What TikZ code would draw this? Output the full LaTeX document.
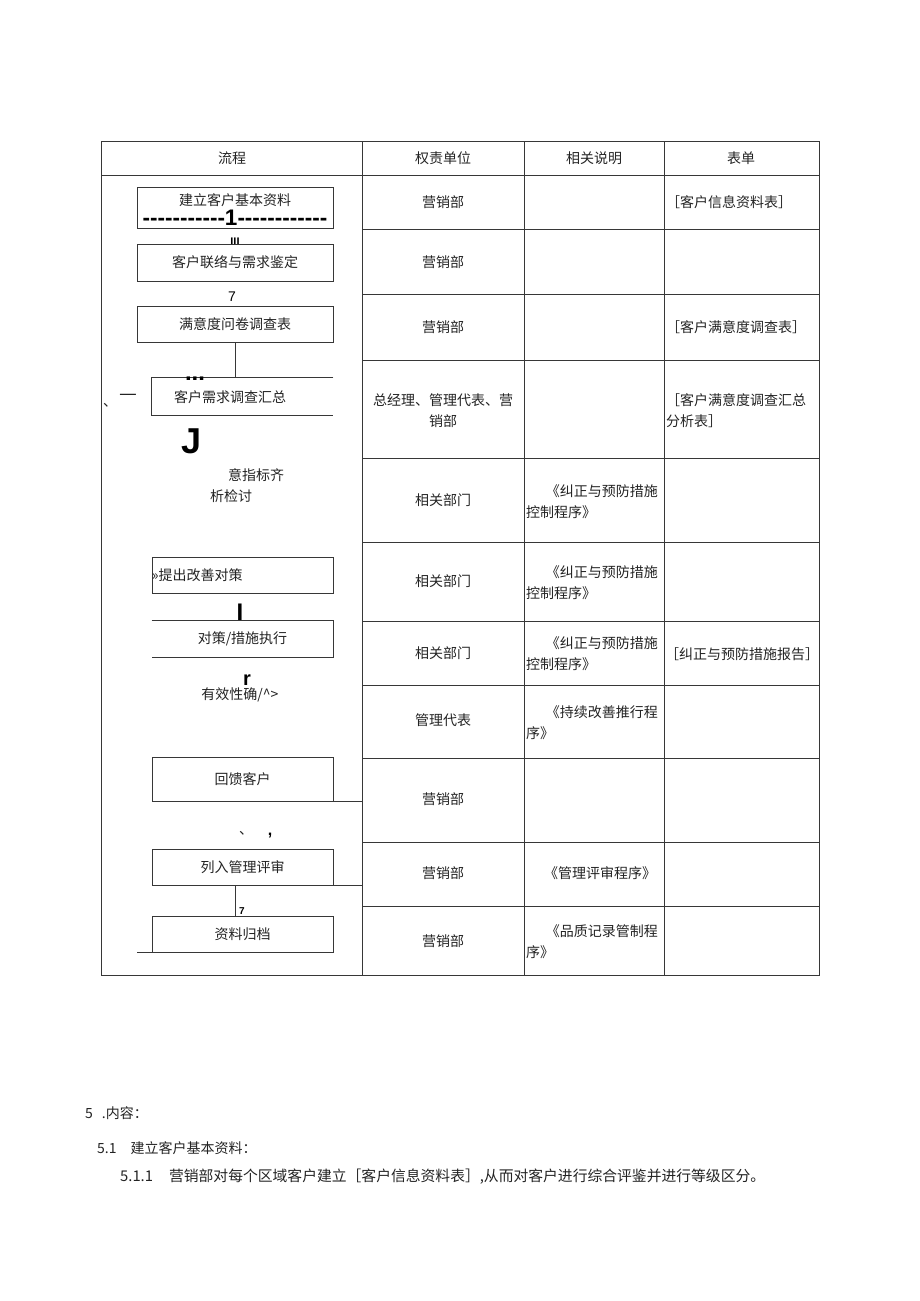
\documentclass[tikz,border=0pt]{standalone}
\usepackage{fontspec}
\setmainfont{Noto Sans CJK SC}
\newfontfamily\latinfont{Liberation Sans}
\usetikzlibrary{calc}
\definecolor{tbline}{RGB}{55,55,55}
\definecolor{tbtext}{RGB}{35,35,35}
\def\hy{-{}}

\begin{document}
\begin{tikzpicture}[
    x=1pt, y=-1pt,
    tag/.style={font=\fontsize{14}{21}\selectfont, text=tbtext, inner sep=0pt},
    glyph/.style={font=\latinfont\fontsize{14}{14}\selectfont, text=black, inner sep=0pt},
    stepbox/.style={draw=tbline, line width=0.8pt, minimum width=181pt, minimum height=36pt,
      inner sep=0pt, font=\fontsize{14}{16}\selectfont, text=tbtext},
    openbox/.style={stepbox, draw=none},
    tbrule/.style={draw=tbline, line width=0.8pt},
  ]

  \useasboundingbox (0,0) rectangle (920,1301);

  % table frame
  \draw[tbrule] (101,141) rectangle (819,975);
  \coordinate (col2) at (362,141);
  \draw[tbrule] (col2) -- (362,975) (524,141) -- (524,975) (664,141) -- (664,975);
  \draw[tbrule] (101,175) -- (819,175);
  \foreach \yy in {229,294,360,458,542,621,685,758,842,906}
    \draw[tbrule] (362,\yy) -- (819,\yy);

  % header
  \node[tag] (h1) at (232,158) {流程};
  \node[tag] (h2) at (443,158) {权责单位};
  \node[tag] (h3) at (594,158) {相关说明};
  \node[tag] (h4) at (741,158) {表单};

  % flow column
  \node[stepbox, minimum width=196pt, minimum height=41pt] (b1) at (235,207.5) {};
  \node[tag] (b1t) at (235,200) {建立客户基本资料};
  \node[glyph, font=\latinfont\bfseries\fontsize{22.5}{22.5}\selectfont] (b1d) at (235,218)
    {\hy\hy\hy\hy\hy\hy\hy\hy\hy\hy\hy 1\hy\hy\hy\hy\hy\hy\hy\hy\hy\hy\hy\hy};
  \node[glyph, font=\latinfont\bfseries\fontsize{11}{11}\selectfont, anchor=base] (m1) at (235,245) {III};

  \node[stepbox, minimum width=196pt, minimum height=37pt] (b2) at (235,262.5) {客户联络与需求鉴定};
  \node[glyph] (m2) at (232,297) {7};

  \node[stepbox, minimum width=196pt] (b3) at (235,324) {满意度问卷调查表};

  \node[openbox, minimum height=37pt] (b4) at (242.5,396.5) {};
  \draw[tbrule] (b4.north east) -- (b4.north west) -- (b4.south west) -- (b4.south east);
  \node[tag] (b4t) at (230,397) {客户需求调查汇总};
  \draw[tbrule] (b3.south) -- (b3.south |- b4.north);
  \node[glyph, font=\latinfont\bfseries\fontsize{24}{24}\selectfont, anchor=base] (m3) at (195,380) {...};
  \node[tag, font=\fontsize{20}{20}\selectfont] (m4) at (128,397) {—};
  \node[tag] (m5) at (110,405) {、};
  \node[glyph, font=\latinfont\bfseries\fontsize{36}{36}\selectfont, anchor=base] (m6) at (192,453) {J};

  \node[tag] (m7) at (256,475) {意指标齐};
  \node[tag] (m8) at (231,496) {析检讨};

  \node[stepbox] (b5) at (242.5,575) {};
  \node[tag, anchor=west] (b5t) at (b5.west) {»提出改善对策};
  \node[glyph, font=\latinfont\bfseries\fontsize{24}{24}\selectfont, anchor=base] (m9) at (240,620) {I};

  \node[openbox] (b6) at (242.5,639) {对策/措施执行};
  \draw[tbrule] (b6.north west) -- (b6.north east) -- (b6.south east) -- (b6.south west);
  \node[glyph, font=\latinfont\bfseries\fontsize{20}{20}\selectfont, anchor=base] (m10) at (247,685) {r};
  \node[tag] (m11) at (240,695) {有效性确/\^{}>};

  \node[stepbox, minimum height=44pt] (b7) at (242.5,779) {回馈客户};
  \draw[tbrule] (b7.south east) -- (b7.south east -| col2);
  \node[tag] (m12) at (246,833) {、};
  \node[glyph, font=\latinfont\bfseries\fontsize{16}{16}\selectfont] (m13) at (270,836) {,};

  \node[stepbox] (b8) at (242.5,867) {列入管理评审};
  \draw[tbrule] (b8.south east) -- (b8.south east -| col2);
  \node[stepbox] (b9) at (242.5,934) {资料归档};
  \draw[tbrule] ($(b8.south)+(-7.5,0)$) -- ($(b9.north)+(-7.5,0)$);
  \node[glyph, font=\latinfont\bfseries\fontsize{10}{10}\selectfont] (m14) at (242,911) {7};
  \draw[tbrule] (b9.south west) -- (b9.south west -| b1.west);

  % responsible units
  \node[tag] (u1) at (443,202) {营销部};
  \node[tag] (u2) at (443,262) {营销部};
  \node[tag] (u3) at (443,327) {营销部};
  \node[tag, align=center] (u4) at (443,411) {总经理、管理代表、营\\销部};
  \node[tag] (u5) at (443,500) {相关部门};
  \node[tag] (u6) at (443,581) {相关部门};
  \node[tag] (u7) at (443,653) {相关部门};
  \node[tag] (u8) at (443,720) {管理代表};
  \node[tag] (u9) at (443,799) {营销部};
  \node[tag] (u10) at (443,873) {营销部};
  \node[tag] (u11) at (443,941) {营销部};

  % notes
  \node[tag, anchor=west, align=left] (d5) at (526,502) {\hspace*{1.4em}《纠正与预防措施\\控制程序》};
  \node[tag, anchor=west, align=left] (d6) at (526,582.5) {\hspace*{1.4em}《纠正与预防措施\\控制程序》};
  \node[tag, anchor=west, align=left] (d7) at (526,653.5) {\hspace*{1.4em}《纠正与预防措施\\控制程序》};
  \node[tag, anchor=west, align=left] (d8) at (526,722.5) {\hspace*{1.4em}《持续改善推行程\\序》};
  \node[tag] (d10) at (600,873) {《管理评审程序》};
  \node[tag, anchor=west, align=left] (d11) at (526,942) {\hspace*{1.4em}《品质记录管制程\\序》};

  % forms
  \node[tag, anchor=west] (f1) at (666,202) {［客户信息资料表］};
  \node[tag, anchor=west] (f3) at (666,327) {［客户满意度调查表］};
  \node[tag, anchor=west, align=left] (f4) at (666,411) {［客户满意度调查汇总\\分析表］};
  \node[tag, anchor=west] (f7) at (665,654) {［纠正与预防措施报告］};

  % text below
  \node[tag, anchor=west] (t1) at (85,1113) {5\hspace{9pt}.内容：};
  \node[tag, anchor=west] (t2) at (97,1148) {5.1\hspace{14pt}建立客户基本资料：};
  \node[tag, anchor=west, font=\fontsize{14.8}{16}\selectfont] (t3) at (120,1177)
    {5.1.1\hspace{16pt}营销部对每个区域客户建立［客户信息资料表］,从而对客户进行综合评鉴并进行等级区分。};

\end{tikzpicture}
\end{document}
